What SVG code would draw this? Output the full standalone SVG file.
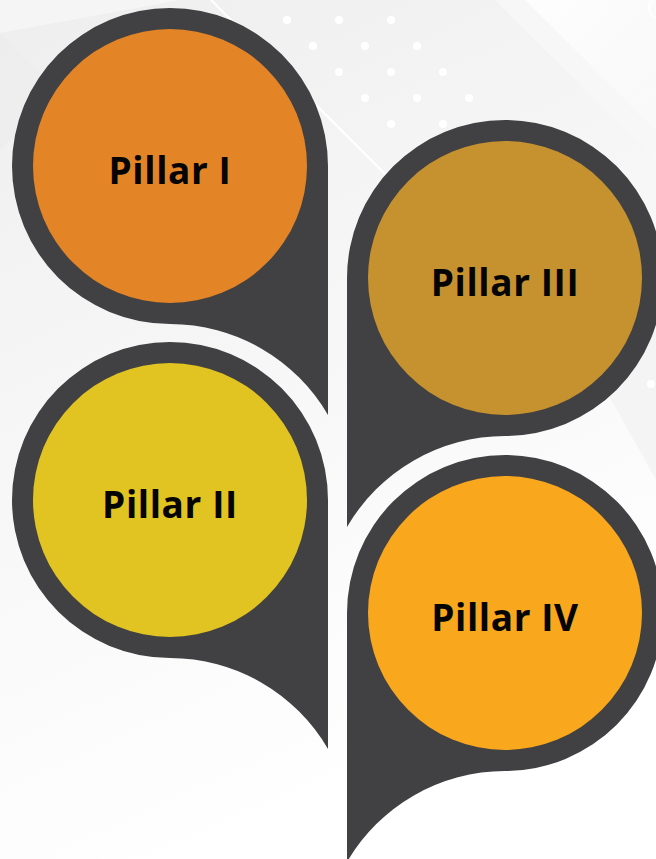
<svg xmlns="http://www.w3.org/2000/svg" width="656" height="859" viewBox="0 0 656 859">
  <defs>
    <linearGradient id="bgGrad" x1="0" y1="0" x2="0.35" y2="1">
      <stop offset="0" stop-color="#eeeeee"/>
      <stop offset="0.45" stop-color="#f6f6f6"/>
      <stop offset="1" stop-color="#ffffff"/>
    </linearGradient>
    <linearGradient id="bandGrad" x1="0" y1="0" x2="1" y2="1">
      <stop offset="0" stop-color="#ffffff" stop-opacity="0.9"/>
      <stop offset="1" stop-color="#ffffff" stop-opacity="0.3"/>
    </linearGradient>
    <style>
      .drop { fill: #414042; }
      .label { font-family: "Open Sans", "Liberation Sans", sans-serif; font-weight: 700; font-size: 37px; letter-spacing: 0.6px; fill: #050505; text-anchor: middle; }
      .dot { fill: #ffffff; }
    </style>
  </defs>

  <!-- backdrop -->
  <g id="background">
    <rect width="656" height="859" fill="url(#bgGrad)"/>
    <polygon points="525,0 656,0 656,131" fill="url(#bandGrad)"/>
    <polygon points="495,0 525,0 656,131 656,161" fill="#f7f7f7" opacity="0.8"/>
    <polygon points="0,0 180,0 0,33" fill="#f8f8f8" opacity="0.7"/>
    <polygon points="0,33 60,93 0,150" fill="#ebebeb" opacity="0.5"/>
    <polygon points="600,380 656,330 656,480" fill="#f0f0f0" opacity="0.6"/>
    <line x1="211" y1="0" x2="400" y2="189" stroke="#ffffff" stroke-width="2"/>
    <circle cx="660" cy="8" r="11" fill="none" stroke="#ffffff" stroke-width="1.5"/>
    <circle class="dot" cx="651" cy="384" r="4"/>
    <!-- dot grid -->
    <g id="dots">
      <circle class="dot" cx="287" cy="20" r="4"/>
      <circle class="dot" cx="339" cy="20" r="4"/>
      <circle class="dot" cx="391" cy="20" r="4"/>
      <circle class="dot" cx="313" cy="46" r="4"/>
      <circle class="dot" cx="365" cy="46" r="4"/>
      <circle class="dot" cx="417" cy="46" r="4"/>
      <circle class="dot" cx="339" cy="72" r="4"/>
      <circle class="dot" cx="391" cy="72" r="4"/>
      <circle class="dot" cx="443" cy="72" r="4"/>
      <circle class="dot" cx="365" cy="98" r="4"/>
      <circle class="dot" cx="417" cy="98" r="4"/>
      <circle class="dot" cx="469" cy="98" r="4"/>
      <circle class="dot" cx="391" cy="124" r="4"/>
      <circle class="dot" cx="443" cy="124" r="4"/>
    </g>
  </g>

  <g id="pillar-1">
    <path class="drop" d="M170,324 A158,158 0 1 1 328,166 L328,415 A183,183 0 0 0 170,324 Z"/>
    <circle cx="170" cy="166" r="137" fill="#e38427"/>
    <text class="label" x="170" y="184">Pillar I</text>
  </g>

  <g id="pillar-2">
    <path class="drop" d="M170,658 A158,158 0 1 1 328,500 L328,749 A183,183 0 0 0 170,658 Z"/>
    <circle cx="170" cy="500" r="137" fill="#e1c421"/>
    <text class="label" x="170" y="518">Pillar II</text>
  </g>

  <g id="pillar-3">
    <path class="drop" d="M505,436 A158,158 0 1 0 347,278 L347,527 A183,183 0 0 1 505,436 Z"/>
    <circle cx="505" cy="278" r="137" fill="#c6922f"/>
    <text class="label" x="505" y="296">Pillar III</text>
  </g>

  <g id="pillar-4">
    <path class="drop" d="M505,771 A158,158 0 1 0 347,613 L347,862 A183,183 0 0 1 505,771 Z"/>
    <circle cx="505" cy="613" r="137" fill="#f9a81e"/>
    <text class="label" x="505" y="631">Pillar IV</text>
  </g>

  <g id="connectors"></g>
</svg>
